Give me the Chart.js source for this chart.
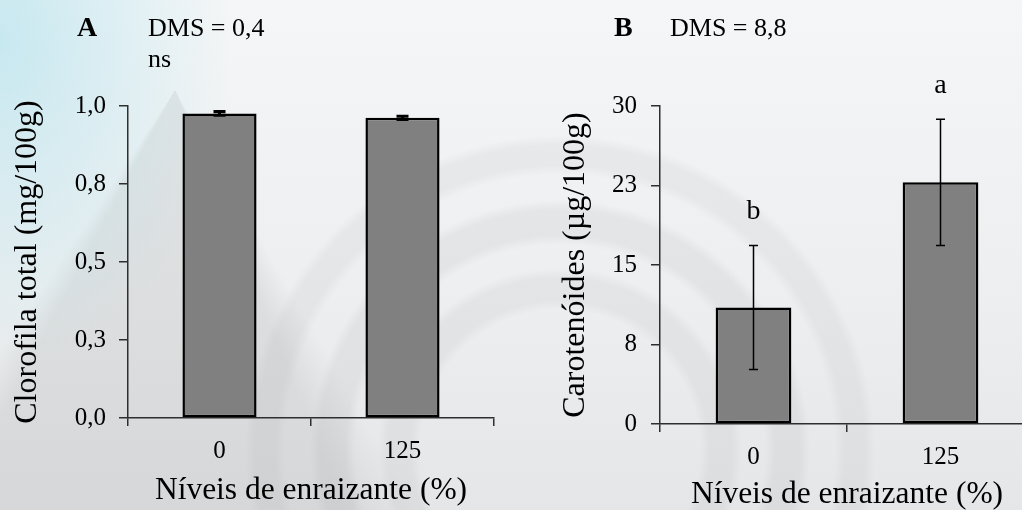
<!DOCTYPE html>
<html>
<head>
<meta charset="utf-8">
<script src="https://cdn.jsdelivr.net/npm/chart.js@4/dist/chart.umd.min.js"></script>
<style>
  html, body { margin:0; padding:0; }
  body {
    width:1022px; height:510px; overflow:hidden; position:relative;
    font-family:"Liberation Serif","Times New Roman",serif; color:#000;
    background:
      radial-gradient(ellipse 230px 330px at 0px 40px, rgba(185,228,238,0.75), rgba(185,228,238,0) 100%),
      radial-gradient(circle at 560px 450px, rgba(0,0,0,0) 0 140px, rgba(150,150,150,0.11) 150px 172px, rgba(0,0,0,0) 182px 205px, rgba(150,150,150,0.12) 215px 240px, rgba(0,0,0,0) 250px 275px, rgba(150,150,150,0.10) 285px 305px, rgba(0,0,0,0) 315px),
      conic-gradient(from 0deg at 175px 90px, rgba(0,0,0,0) 0 150deg, rgba(150,150,150,0.18) 158deg 208deg, rgba(0,0,0,0) 214deg),
      linear-gradient(180deg, #f4f6f7 0%, #eceeef 60%, #e4e6e7 100%);
  }
  canvas { position:absolute; top:0; }
  .lbl { position:absolute; line-height:1; white-space:nowrap; }
</style>
</head>
<body>
<canvas id="ca" width="511" height="510" style="left:0px"></canvas>
<canvas id="cb" width="540" height="510" style="left:511px"></canvas>

<div class="lbl" style="left:77px; top:13px; font-size:28px; font-weight:bold;">A</div>
<div class="lbl" style="left:148px; top:15px; font-size:26px;">DMS = 0,4</div>
<div class="lbl" style="left:148px; top:46px; font-size:26px;">ns</div>
<div class="lbl" style="left:614px; top:13px; font-size:28px; font-weight:bold;">B</div>
<div class="lbl" style="left:670px; top:15px; font-size:26px;">DMS = 8,8</div>

<script>
// ---- data ----
const categories = ['0', '125'];
const clorofila = [0.976, 0.962];
const clorofilaErr = [0.006, 0.005];
const carotenoides = [11.0, 22.8];
const carotenoidesErr = [5.85, 5.95];
const carotenoidesLetters = ['b', 'a'];
const tickLabelsA = ['0,0', '0,3', '0,5', '0,8', '1,0'];
const tickLabelsB = ['0', '8', '15', '23', '30'];
const xTitle = 'Níveis de enraizante (%)';
const yTitleA = 'Clorofila total (mg/100g)';
const yTitleB = 'Carotenóides (µg/100g)';

const FONT = '"Liberation Serif", "Times New Roman", serif';
const AXIS = '#2e2e2e';

const errorBarPlugin = {
  id: 'errorBars',
  afterDatasetsDraw(chart, args, opts) {
    const meta = chart.getDatasetMeta(0);
    const y = chart.scales.y;
    const ctx = chart.ctx;
    ctx.save();
    ctx.strokeStyle = opts.color || '#000';
    ctx.lineWidth = opts.lineWidth || 1.5;
    meta.data.forEach((bar, i) => {
      const v = opts.values[i], e = opts.errors[i];
      const yt = y.getPixelForValue(v + e);
      const yb = y.getPixelForValue(v - e);
      const hw = opts.capWidth / 2;
      ctx.beginPath();
      ctx.moveTo(bar.x, yt); ctx.lineTo(bar.x, yb);
      ctx.moveTo(bar.x - hw, yt); ctx.lineTo(bar.x + hw, yt);
      ctx.moveTo(bar.x - hw, yb); ctx.lineTo(bar.x + hw, yb);
      ctx.stroke();
      if (opts.letters) {
        ctx.fillStyle = '#000';
        ctx.font = '28px ' + FONT;
        ctx.textAlign = 'center';
        ctx.textBaseline = 'alphabetic';
        ctx.fillText(opts.letters[i], bar.x, yt - 26);
      }
    });
    ctx.restore();
  }
};

function makeChart(id, cfg) {
  return new Chart(document.getElementById(id), {
    type: 'bar',
    data: {
      labels: categories,
      datasets: [{
        data: cfg.values,
        backgroundColor: '#808080',
        borderColor: '#000000',
        borderWidth: 2.5,
        borderSkipped: false,
        barPercentage: 0.405,
        categoryPercentage: 1.0
      }]
    },
    options: {
      responsive: false,
      animation: false,
      layout: { padding: { top: 106, right: 17, bottom: 0, left: 0 } },
      plugins: {
        legend: { display: false },
        tooltip: { enabled: false },
        errorBars: {
          values: cfg.values, errors: cfg.errors, capWidth: cfg.capWidth,
          lineWidth: cfg.errLineWidth, letters: cfg.letters
        }
      },
      scales: {
        x: {
          offset: true,
          grid: { display: true, drawOnChartArea: false, offset: true, tickLength: 8, color: AXIS, lineWidth: 1.5 },
          border: { display: true, color: AXIS, width: 1.5 },
          ticks: { color: '#000', font: { family: FONT, size: 25 }, padding: 10 },
          title: { display: true, text: xTitle, color: '#000', font: { family: FONT, size: 31.5, lineHeight: 1.2 }, padding: { top: 0, bottom: cfg.xTitlePad } },
          afterFit(s) { s.height = cfg.xHeight; }
        },
        y: {
          min: 0, max: cfg.max,
          grid: { display: true, drawOnChartArea: false, tickLength: 9, color: AXIS, lineWidth: 1.5 },
          border: { display: true, color: AXIS, width: 1.5 },
          ticks: {
            stepSize: cfg.max / 4, color: '#000', font: { family: FONT, size: 25 }, padding: cfg.yTickPad,
            callback: (v, i) => cfg.tickLabels[i]
          },
          title: { display: true, text: cfg.yTitle, color: '#000', font: { family: FONT, size: 32, lineHeight: 1.2 }, padding: { top: cfg.yTitlePad, bottom: 0 } },
          afterFit(s) { s.width = cfg.yWidth; }
        }
      }
    },
    plugins: [errorBarPlugin]
  });
}

makeChart('ca', {
  values: clorofila, errors: clorofilaErr, max: 1, tickLabels: tickLabelsA,
  yTitle: yTitleA, yWidth: 128, xHeight: 92, yTitlePad: 8, xTitlePad: 0, yTickPad: 13,
  capWidth: 12, errLineWidth: 3
});
makeChart('cb', {
  values: carotenoides, errors: carotenoidesErr, max: 30, tickLabels: tickLabelsB,
  yTitle: yTitleB, yWidth: 149, xHeight: 86, yTitlePad: 45, xTitlePad: -4, yTickPad: 14,
  capWidth: 9, errLineWidth: 1.5, letters: carotenoidesLetters
});
</script>
</body>
</html>
